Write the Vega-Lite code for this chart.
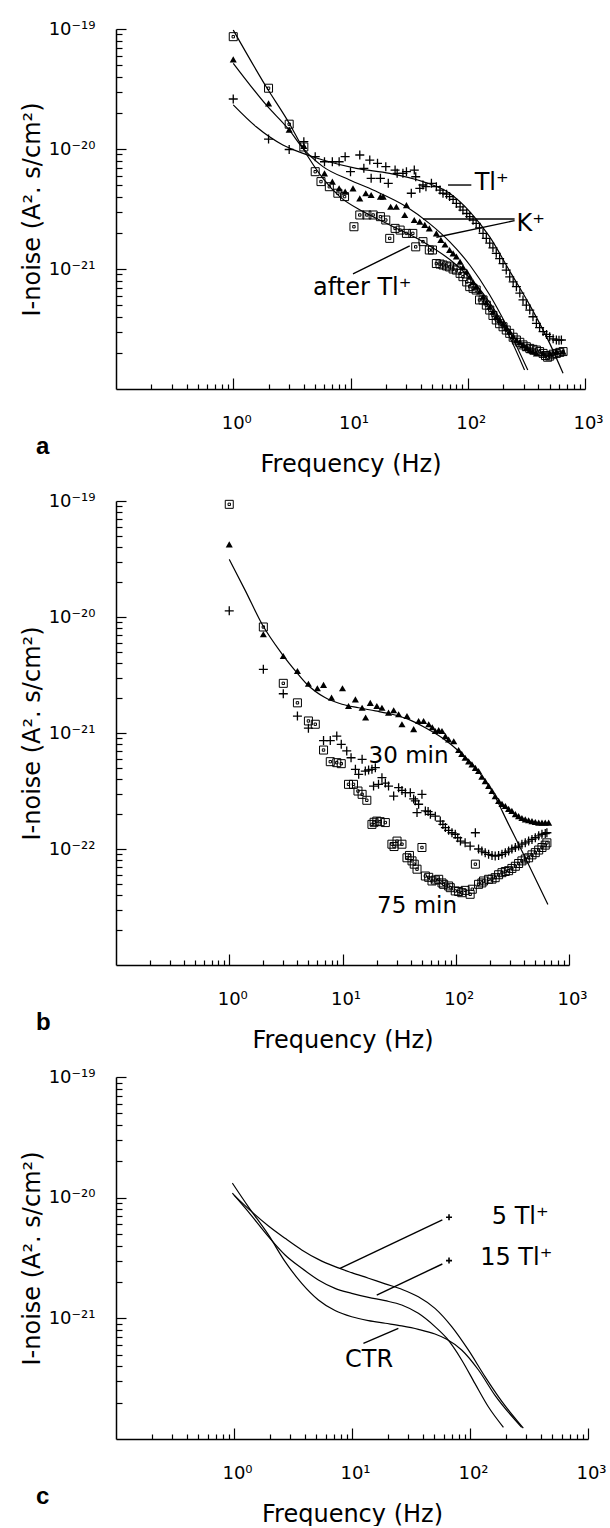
{
"$schema":"https://vega.github.io/schema/vega-lite/v6.json",
"padding":{"left":20,"top":20,"right":5,"bottom":0},
"bounds":"flush",
"spacing":112,
"config":{"view":{"stroke":null},"font":"DejaVu Sans",
"axis":{"grid":false,"domainColor":"#000","domainWidth":1.5,"tickColor":"#000","tickWidth":1.2,"labelColor":"#000","labelFont":"DejaVu Sans","labelFontSize":18,"titleColor":"#000","titleFont":"DejaVu Sans","titleFontSize":24,"titleFontWeight":"normal","labelFlush":false,"labelOverlap":false,"labelBound":false},
"title":{"font":"Liberation Sans","fontSize":24,"fontWeight":"bold","color":"#000"}},
"datasets":{
"A":[
{"k":"fit","s":"tl","f":1,"v":2.33e-20},{"k":"fit","s":"tl","f":1.57,"v":1.53e-20},{"k":"fit","s":"tl","f":2.65,"v":1.08e-20},{"k":"fit","s":"tl","f":3.94,"v":9.2e-21},{"k":"fit","s":"tl","f":5.82,"v":8.09e-21},{"k":"fit","s":"tl","f":11.2,"v":6.9e-21},{"k":"fit","s":"tl","f":21.6,"v":6.27e-21},{"k":"fit","s":"tl","f":41.5,"v":5.35e-21},{"k":"fit","s":"tl","f":70,"v":4.28e-21},{"k":"fit","s":"tl","f":104,"v":3.01e-21},{"k":"fit","s":"tl","f":154,"v":1.85e-21},{"k":"fit","s":"tl","f":228,"v":9.6e-22},{"k":"fit","s":"tl","f":338,"v":5.0e-22},{"k":"fit","s":"tl","f":500,"v":2.4e-22},{"k":"fit","s":"tl","f":650,"v":1.35e-22},
{"k":"fit","s":"k","f":1,"v":5.18e-20},{"k":"fit","s":"k","f":1.91,"v":2.33e-20},{"k":"fit","s":"k","f":3,"v":1.44e-20},{"k":"fit","s":"k","f":3.94,"v":1.01e-20},{"k":"fit","s":"k","f":5.82,"v":7.13e-21},{"k":"fit","s":"k","f":9.85,"v":5.52e-21},{"k":"fit","s":"k","f":15.6,"v":4.55e-21},{"k":"fit","s":"k","f":30,"v":3.3e-21},{"k":"fit","s":"k","f":47,"v":2.4e-21},{"k":"fit","s":"k","f":70,"v":1.69e-21},{"k":"fit","s":"k","f":104,"v":1.08e-21},{"k":"fit","s":"k","f":154,"v":6.07e-22},{"k":"fit","s":"k","f":213,"v":3.41e-22},{"k":"fit","s":"k","f":325,"v":1.44e-22},
{"k":"fit","s":"af","f":1,"v":9.8e-20},{"k":"fit","s":"af","f":1.91,"v":3.3e-20},{"k":"fit","s":"af","f":3,"v":1.64e-20},{"k":"fit","s":"af","f":3.94,"v":1.01e-20},{"k":"fit","s":"af","f":5.82,"v":5.7e-21},{"k":"fit","s":"af","f":8.1,"v":4.01e-21},{"k":"fit","s":"af","f":12.8,"v":3.01e-21},{"k":"fit","s":"af","f":21.6,"v":2.33e-21},{"k":"fit","s":"af","f":41.5,"v":1.69e-21},{"k":"fit","s":"af","f":80,"v":1.08e-21},{"k":"fit","s":"af","f":135,"v":6.27e-22},{"k":"fit","s":"af","f":213,"v":3.1e-22},{"k":"fit","s":"af","f":305,"v":1.44e-22},
{"k":"p","f":1,"v":2.61e-20},{"k":"p","f":2,"v":1.21e-20},{"k":"p","f":3,"v":9.9e-21},{"k":"p","f":4,"v":1.15e-20},{"k":"p","f":5,"v":8.63e-21},{"k":"p","f":6,"v":7.83e-21},{"k":"p","f":7,"v":7.83e-21},{"k":"p","f":8,"v":7.83e-21},{"k":"p","f":9,"v":8.63e-21},{"k":"p","f":10,"v":6.47e-21},{"k":"p","f":12,"v":8.91e-21},{"k":"p","f":13,"v":6.9e-21},{"k":"p","f":14.6,"v":8.09e-21},{"k":"p","f":15,"v":5.7e-21},{"k":"p","f":17,"v":7.6e-21},{"k":"p","f":18,"v":5.7e-21},{"k":"p","f":20,"v":7.13e-21},{"k":"p","f":21,"v":5.18e-21},{"k":"p","f":24,"v":6.68e-21},{"k":"p","f":25,"v":6.27e-21},{"k":"p","f":28,"v":6.27e-21},{"k":"p","f":30,"v":6.47e-21},{"k":"p","f":33,"v":4.28e-21},{"k":"p","f":35,"v":6.68e-21},{"k":"p","f":36,"v":5.87e-21},{"k":"p","f":39,"v":4.7e-21},{"k":"p","f":41.5,"v":5.01e-21},{"k":"p","f":44,"v":4.85e-21},{"k":"p","f":49,"v":5.18e-21},{"k":"p","f":54,"v":4.85e-21},{"k":"p","f":58,"v":4.55e-21},{"k":"p","f":61.5,"v":4.28e-21},{"k":"p","f":66,"v":4.2e-21},{"k":"p","f":70,"v":4.01e-21},{"k":"p","f":75,"v":3.8e-21},{"k":"p","f":80,"v":3.52e-21},{"k":"p","f":86,"v":3.3e-21},{"k":"p","f":91,"v":3.1e-21},{"k":"p","f":98,"v":2.9e-21},{"k":"p","f":104,"v":2.73e-21},{"k":"p","f":111,"v":2.55e-21},{"k":"p","f":118,"v":2.4e-21},{"k":"p","f":126,"v":2.2e-21},{"k":"p","f":135,"v":1.98e-21},{"k":"p","f":144,"v":1.8e-21},{"k":"p","f":154,"v":1.64e-21},{"k":"p","f":164,"v":1.5e-21},{"k":"p","f":175,"v":1.35e-21},{"k":"p","f":187,"v":1.22e-21},{"k":"p","f":200,"v":1.11e-21},{"k":"p","f":213,"v":9.8e-22},{"k":"p","f":228,"v":8.6e-22},{"k":"p","f":244,"v":7.8e-22},{"k":"p","f":260,"v":7.13e-22},{"k":"p","f":278,"v":6.3e-22},{"k":"p","f":296,"v":5.52e-22},{"k":"p","f":316,"v":5.0e-22},{"k":"p","f":338,"v":4.55e-22},{"k":"p","f":360,"v":4.0e-22},{"k":"p","f":385,"v":3.52e-22},{"k":"p","f":410,"v":3.25e-22},{"k":"p","f":439,"v":3.01e-22},{"k":"p","f":470,"v":2.85e-22},{"k":"p","f":500,"v":2.73e-22},{"k":"p","f":535,"v":2.62e-22},{"k":"p","f":570,"v":2.56e-22},{"k":"p","f":600,"v":2.55e-22},{"k":"p","f":629,"v":2.56e-22},
{"k":"t","f":1,"v":5.58e-20},{"k":"t","f":2,"v":2.4e-20},{"k":"t","f":3,"v":1.45e-20},{"k":"t","f":4,"v":1.06e-20},{"k":"t","f":6,"v":6.27e-21},{"k":"t","f":7,"v":5.35e-21},{"k":"t","f":8,"v":4.7e-21},{"k":"t","f":9,"v":4.41e-21},{"k":"t","f":10.5,"v":4.7e-21},{"k":"t","f":12,"v":3.88e-21},{"k":"t","f":13.5,"v":4.28e-21},{"k":"t","f":15,"v":4.14e-21},{"k":"t","f":18,"v":4.01e-21},{"k":"t","f":19,"v":4.01e-21},{"k":"t","f":22,"v":3.3e-21},{"k":"t","f":24.6,"v":3.3e-21},{"k":"t","f":29,"v":2.82e-21},{"k":"t","f":30,"v":3.41e-21},{"k":"t","f":35,"v":2.56e-21},{"k":"t","f":39,"v":2.48e-21},{"k":"t","f":43,"v":2.33e-21},{"k":"t","f":47,"v":2.18e-21},{"k":"t","f":54,"v":1.98e-21},{"k":"t","f":59,"v":1.75e-21},{"k":"t","f":64,"v":1.6e-21},{"k":"t","f":70,"v":1.44e-21},{"k":"t","f":75,"v":1.35e-21},{"k":"t","f":80,"v":1.27e-21},{"k":"t","f":86,"v":1.15e-21},{"k":"t","f":91,"v":1.04e-21},{"k":"t","f":98,"v":9.5e-22},{"k":"t","f":104,"v":8.63e-22},{"k":"t","f":111,"v":7.8e-22},{"k":"t","f":118,"v":7.13e-22},{"k":"t","f":126,"v":6.5e-22},{"k":"t","f":135,"v":5.87e-22},{"k":"t","f":144,"v":5.3e-22},{"k":"t","f":154,"v":4.85e-22},{"k":"t","f":164,"v":4.4e-22},{"k":"t","f":175,"v":4.01e-22},{"k":"t","f":187,"v":3.75e-22},{"k":"t","f":200,"v":3.52e-22},{"k":"t","f":213,"v":3.25e-22},{"k":"t","f":228,"v":3.01e-22},{"k":"t","f":244,"v":2.75e-22},{"k":"t","f":260,"v":2.56e-22},{"k":"t","f":278,"v":2.45e-22},{"k":"t","f":296,"v":2.33e-22},{"k":"t","f":316,"v":2.2e-22},{"k":"t","f":338,"v":2.11e-22},{"k":"t","f":360,"v":2.05e-22},{"k":"t","f":385,"v":1.98e-22},{"k":"t","f":439,"v":1.98e-22},{"k":"t","f":500,"v":1.98e-22},{"k":"t","f":570,"v":2.05e-22},{"k":"t","f":650,"v":2.05e-22},
{"k":"q","f":1,"v":8.63e-20},{"k":"q","f":2,"v":3.21e-20},{"k":"q","f":3,"v":1.61e-20},{"k":"q","f":4,"v":1.04e-20},{"k":"q","f":5,"v":6.47e-21},{"k":"q","f":5.6,"v":5.35e-21},{"k":"q","f":6.6,"v":4.85e-21},{"k":"q","f":7.8,"v":4.28e-21},{"k":"q","f":8.9,"v":4.01e-21},{"k":"q","f":10.7,"v":2.25e-21},{"k":"q","f":12,"v":2.82e-21},{"k":"q","f":13.8,"v":2.82e-21},{"k":"q","f":15.6,"v":2.82e-21},{"k":"q","f":18,"v":2.73e-21},{"k":"q","f":20,"v":2.56e-21},{"k":"q","f":21.6,"v":1.8e-21},{"k":"q","f":24,"v":2.18e-21},{"k":"q","f":26.5,"v":2.11e-21},{"k":"q","f":30,"v":1.98e-21},{"k":"q","f":34,"v":1.98e-21},{"k":"q","f":36,"v":1.53e-21},{"k":"q","f":41.5,"v":1.69e-21},{"k":"q","f":47,"v":1.44e-21},{"k":"q","f":50,"v":1.44e-21},{"k":"q","f":54,"v":1.11e-21},{"k":"q","f":58,"v":1.1e-21},{"k":"q","f":61.5,"v":1.08e-21},{"k":"q","f":66,"v":1.06e-21},{"k":"q","f":70,"v":1.04e-21},{"k":"q","f":75,"v":1.0e-21},{"k":"q","f":80,"v":9.8e-22},{"k":"q","f":86,"v":9.2e-22},{"k":"q","f":91,"v":8.63e-22},{"k":"q","f":98,"v":7.8e-22},{"k":"q","f":104,"v":7.13e-22},{"k":"q","f":111,"v":6.9e-22},{"k":"q","f":118,"v":6.68e-22},{"k":"q","f":126,"v":5.52e-22},{"k":"q","f":135,"v":5.52e-22},{"k":"q","f":144,"v":5.0e-22},{"k":"q","f":154,"v":4.55e-22},{"k":"q","f":164,"v":4.1e-22},{"k":"q","f":175,"v":3.76e-22},{"k":"q","f":187,"v":3.5e-22},{"k":"q","f":200,"v":3.3e-22},{"k":"q","f":213,"v":3.1e-22},{"k":"q","f":228,"v":2.91e-22},{"k":"q","f":244,"v":2.7e-22},{"k":"q","f":260,"v":2.56e-22},{"k":"q","f":278,"v":2.45e-22},{"k":"q","f":296,"v":2.33e-22},{"k":"q","f":316,"v":2.25e-22},{"k":"q","f":338,"v":2.18e-22},{"k":"q","f":360,"v":2.14e-22},{"k":"q","f":385,"v":2.11e-22},{"k":"q","f":410,"v":2.05e-22},{"k":"q","f":439,"v":1.98e-22},{"k":"q","f":460,"v":1.9e-22},{"k":"q","f":480,"v":1.84e-22},{"k":"q","f":500,"v":1.88e-22},{"k":"q","f":535,"v":1.95e-22},{"k":"q","f":570,"v":1.98e-22},{"k":"q","f":610,"v":2.02e-22},{"k":"q","f":650,"v":2.05e-22},
{"k":"lead","f":67.9,"v":5.01e-21,"f2":107.3,"v2":5.01e-21},{"k":"lead","f":251,"v":2.61e-21,"f2":41.5,"v2":2.61e-21},{"k":"lead","f":251,"v":2.53e-21,"f2":54,"v2":1.84e-21},{"k":"lead","f":10.5,"v":9.1e-22,"f2":32,"v2":1.56e-21},
{"k":"lab","f":114.6,"v":5.18e-21,"t":"Tl⁺"},{"k":"lab","f":260,"v":2.37e-21,"t":"K⁺"},{"k":"lab","f":4.79,"v":6.9e-22,"t":"after Tl⁺"}
],
"B":[
{"k":"fit","s":"k","f":1,"v":3.14e-20},{"k":"fit","s":"k","f":1.39,"v":1.68e-20},{"k":"fit","s":"k","f":1.95,"v":8.65e-21},{"k":"fit","s":"k","f":2.94,"v":4.77e-21},{"k":"fit","s":"k","f":3.85,"v":3.42e-21},{"k":"fit","s":"k","f":4.86,"v":2.63e-21},{"k":"fit","s":"k","f":7,"v":2.02e-21},{"k":"fit","s":"k","f":9.9,"v":1.77e-21},{"k":"fit","s":"k","f":13.9,"v":1.65e-21},{"k":"fit","s":"k","f":19.5,"v":1.55e-21},{"k":"fit","s":"k","f":27.3,"v":1.45e-21},{"k":"fit","s":"k","f":38.4,"v":1.31e-21},{"k":"fit","s":"k","f":53.9,"v":1.11e-21},{"k":"fit","s":"k","f":75.6,"v":9.1e-22},{"k":"fit","s":"k","f":106,"v":7.0e-22},{"k":"fit","s":"k","f":149,"v":5.02e-22},{"k":"fit","s":"k","f":209,"v":3.16e-22},{"k":"fit","s":"k","f":293,"v":1.63e-22},{"k":"fit","s":"k","f":411,"v":8.4e-23},{"k":"fit","s":"k","f":650,"v":3.33e-23},
{"k":"t","f":1,"v":4.23e-20},{"k":"t","f":2,"v":7.1e-21},{"k":"t","f":3,"v":4.61e-21},{"k":"t","f":4,"v":3.42e-21},{"k":"t","f":5,"v":2.66e-21},{"k":"t","f":6,"v":2.43e-21},{"k":"t","f":6.8,"v":2.6e-21},{"k":"t","f":8,"v":2.02e-21},{"k":"t","f":10,"v":2.43e-21},{"k":"t","f":11.3,"v":1.71e-21},{"k":"t","f":13,"v":1.95e-21},{"k":"t","f":14.9,"v":1.65e-21},{"k":"t","f":16,"v":1.36e-21},{"k":"t","f":17.6,"v":1.82e-21},{"k":"t","f":20.1,"v":1.71e-21},{"k":"t","f":22.3,"v":1.65e-21},{"k":"t","f":25.5,"v":1.5e-21},{"k":"t","f":28.3,"v":1.57e-21},{"k":"t","f":31.3,"v":1.45e-21},{"k":"t","f":33.5,"v":1.19e-21},{"k":"t","f":37.1,"v":1.4e-21},{"k":"t","f":42.5,"v":1.08e-21},{"k":"t","f":47,"v":1.27e-21},{"k":"t","f":52,"v":1.27e-21},{"k":"t","f":57.7,"v":1.19e-21},{"k":"t","f":62,"v":1.12e-21},{"k":"t","f":66,"v":1.04e-21},{"k":"t","f":70.7,"v":1.06e-21},{"k":"t","f":75.6,"v":1.04e-21},{"k":"t","f":81,"v":9.4e-22},{"k":"t","f":86.5,"v":8.8e-22},{"k":"t","f":96,"v":8.5e-22},{"k":"t","f":106,"v":7.13e-22},{"k":"t","f":113,"v":6.6e-22},{"k":"t","f":121,"v":6.12e-22},{"k":"t","f":130,"v":5.7e-22},{"k":"t","f":139,"v":5.37e-22},{"k":"t","f":149,"v":5.0e-22},{"k":"t","f":159,"v":4.7e-22},{"k":"t","f":170,"v":4.2e-22},{"k":"t","f":182,"v":3.85e-22},{"k":"t","f":195,"v":3.5e-22},{"k":"t","f":209,"v":3.16e-22},{"k":"t","f":223,"v":2.85e-22},{"k":"t","f":239,"v":2.6e-22},{"k":"t","f":256,"v":2.45e-22},{"k":"t","f":274,"v":2.35e-22},{"k":"t","f":293,"v":2.22e-22},{"k":"t","f":313,"v":2.13e-22},{"k":"t","f":336,"v":2.0e-22},{"k":"t","f":359,"v":1.92e-22},{"k":"t","f":384,"v":1.85e-22},{"k":"t","f":411,"v":1.8e-22},{"k":"t","f":440,"v":1.77e-22},{"k":"t","f":471,"v":1.74e-22},{"k":"t","f":504,"v":1.71e-22},{"k":"t","f":540,"v":1.69e-22},{"k":"t","f":577,"v":1.69e-22},{"k":"t","f":617,"v":1.69e-22},{"k":"t","f":661,"v":1.69e-22},
{"k":"p","f":1,"v":1.13e-20},{"k":"p","f":2,"v":3.54e-21},{"k":"p","f":3,"v":2.18e-21},{"k":"p","f":4,"v":1.4e-21},{"k":"p","f":5,"v":1.1e-21},{"k":"p","f":6.8,"v":8.6e-22},{"k":"p","f":7.8,"v":8.6e-22},{"k":"p","f":8.9,"v":9.4e-22},{"k":"p","f":9.75,"v":7.98e-22},{"k":"p","f":10.9,"v":7.0e-22},{"k":"p","f":11.9,"v":6.12e-22},{"k":"p","f":13,"v":4.86e-22},{"k":"p","f":13.9,"v":4.4e-22},{"k":"p","f":14.9,"v":5.93e-22},{"k":"p","f":15.9,"v":4.7e-22},{"k":"p","f":17,"v":4.8e-22},{"k":"p","f":18.2,"v":4.86e-22},{"k":"p","f":19.5,"v":5.02e-22},{"k":"p","f":18.8,"v":3.49e-22},{"k":"p","f":20.8,"v":3.61e-22},{"k":"p","f":22.3,"v":4.12e-22},{"k":"p","f":23.9,"v":3.7e-22},{"k":"p","f":25.5,"v":3.49e-22},{"k":"p","f":28.3,"v":2.86e-22},{"k":"p","f":31.3,"v":3.38e-22},{"k":"p","f":33.5,"v":3.2e-22},{"k":"p","f":35.9,"v":3.06e-22},{"k":"p","f":39.7,"v":3.06e-22},{"k":"p","f":42.5,"v":2.7e-22},{"k":"p","f":44,"v":2.6e-22},{"k":"p","f":45.5,"v":2.06e-22},{"k":"p","f":47,"v":2.43e-22},{"k":"p","f":50.3,"v":2.96e-22},{"k":"p","f":53.9,"v":2.13e-22},{"k":"p","f":57,"v":2.1e-22},{"k":"p","f":59.7,"v":1.99e-22},{"k":"p","f":66,"v":1.92e-22},{"k":"p","f":73,"v":1.74e-22},{"k":"p","f":77,"v":1.63e-22},{"k":"p","f":81,"v":1.53e-22},{"k":"p","f":86.5,"v":1.45e-22},{"k":"p","f":92.6,"v":1.38e-22},{"k":"p","f":99,"v":1.34e-22},{"k":"p","f":104,"v":1.25e-22},{"k":"p","f":110,"v":1.17e-22},{"k":"p","f":121,"v":1.13e-22},{"k":"p","f":134,"v":1.06e-22},{"k":"p","f":149,"v":1.38e-22},{"k":"p","f":159,"v":1.0e-22},{"k":"p","f":170,"v":9.6e-23},{"k":"p","f":182,"v":9.3e-23},{"k":"p","f":195,"v":9.0e-23},{"k":"p","f":209,"v":8.8e-23},{"k":"p","f":223,"v":8.7e-23},{"k":"p","f":239,"v":8.8e-23},{"k":"p","f":256,"v":9.0e-23},{"k":"p","f":274,"v":9.3e-23},{"k":"p","f":293,"v":9.6e-23},{"k":"p","f":313,"v":1.0e-22},{"k":"p","f":336,"v":1.03e-22},{"k":"p","f":359,"v":1.06e-22},{"k":"p","f":384,"v":1.1e-22},{"k":"p","f":411,"v":1.13e-22},{"k":"p","f":440,"v":1.17e-22},{"k":"p","f":471,"v":1.21e-22},{"k":"p","f":504,"v":1.25e-22},{"k":"p","f":540,"v":1.3e-22},{"k":"p","f":577,"v":1.34e-22},{"k":"p","f":617,"v":1.36e-22},{"k":"p","f":638,"v":1.38e-22},
{"k":"q","f":1,"v":9.36e-20},{"k":"q","f":2,"v":8.2e-21},{"k":"q","f":3,"v":2.68e-21},{"k":"q","f":4,"v":1.82e-21},{"k":"q","f":5,"v":1.27e-21},{"k":"q","f":5.75,"v":1.19e-21},{"k":"q","f":6.8,"v":7.13e-22},{"k":"q","f":7.8,"v":5.66e-22},{"k":"q","f":8.9,"v":5.55e-22},{"k":"q","f":9.75,"v":5.44e-22},{"k":"q","f":11.3,"v":3.61e-22},{"k":"q","f":12.5,"v":3.61e-22},{"k":"q","f":13.7,"v":3.16e-22},{"k":"q","f":14.9,"v":2.96e-22},{"k":"q","f":16.4,"v":2.63e-22},{"k":"q","f":18.2,"v":1.63e-22},{"k":"q","f":19,"v":1.7e-22},{"k":"q","f":20.1,"v":1.74e-22},{"k":"q","f":21.5,"v":1.72e-22},{"k":"q","f":23.9,"v":1.69e-22},{"k":"q","f":27.3,"v":1.1e-22},{"k":"q","f":28.5,"v":1.05e-22},{"k":"q","f":30.3,"v":1.17e-22},{"k":"q","f":33.5,"v":1.1e-22},{"k":"q","f":37.1,"v":8.4e-23},{"k":"q","f":39,"v":8.8e-23},{"k":"q","f":41.1,"v":7.9e-23},{"k":"q","f":43,"v":7.4e-23},{"k":"q","f":45.5,"v":6.7e-23},{"k":"q","f":50.3,"v":1.03e-22},{"k":"q","f":53.9,"v":5.85e-23},{"k":"q","f":57.7,"v":5.7e-23},{"k":"q","f":61.7,"v":5.3e-23},{"k":"q","f":66,"v":5.4e-23},{"k":"q","f":70.7,"v":5.48e-23},{"k":"q","f":75.6,"v":5.1e-23},{"k":"q","f":78.2,"v":4.96e-23},{"k":"q","f":86.5,"v":4.8e-23},{"k":"q","f":89.5,"v":4.64e-23},{"k":"q","f":99,"v":4.35e-23},{"k":"q","f":106,"v":4.3e-23},{"k":"q","f":113,"v":4.2e-23},{"k":"q","f":121,"v":4.4e-23},{"k":"q","f":134,"v":4.07e-23},{"k":"q","f":140,"v":4.5e-23},{"k":"q","f":149,"v":7.4e-23},{"k":"q","f":159,"v":4.96e-23},{"k":"q","f":170,"v":5.1e-23},{"k":"q","f":176,"v":5.3e-23},{"k":"q","f":195,"v":5.48e-23},{"k":"q","f":209,"v":5.5e-23},{"k":"q","f":223,"v":5.66e-23},{"k":"q","f":239,"v":6.0e-23},{"k":"q","f":256,"v":6.25e-23},{"k":"q","f":274,"v":6.4e-23},{"k":"q","f":293,"v":6.5e-23},{"k":"q","f":313,"v":6.8e-23},{"k":"q","f":336,"v":7.1e-23},{"k":"q","f":359,"v":7.5e-23},{"k":"q","f":384,"v":7.9e-23},{"k":"q","f":411,"v":8.2e-23},{"k":"q","f":440,"v":8.4e-23},{"k":"q","f":471,"v":8.9e-23},{"k":"q","f":504,"v":9.3e-23},{"k":"q","f":540,"v":9.8e-23},{"k":"q","f":577,"v":1.03e-22},{"k":"q","f":617,"v":1.08e-22},{"k":"q","f":638,"v":1.13e-22},
{"k":"lab","f":17.0,"v":6.34e-22,"t":"30 min"},{"k":"lab","f":20.2,"v":3.23e-23,"t":"75 min"}
],
"C":[
{"k":"fit","s":"c5","f":1.0,"v":1.05e-20},{"k":"fit","s":"c5","f":1.41,"v":7.66e-21},{"k":"fit","s":"c5","f":1.96,"v":5.82e-21},{"k":"fit","s":"c5","f":2.71,"v":4.6e-21},{"k":"fit","s":"c5","f":3.75,"v":3.69e-21},{"k":"fit","s":"c5","f":5.19,"v":3.08e-21},{"k":"fit","s":"c5","f":7.18,"v":2.68e-21},{"k":"fit","s":"c5","f":9.94,"v":2.39e-21},{"k":"fit","s":"c5","f":13.8,"v":2.15e-21},{"k":"fit","s":"c5","f":19.1,"v":1.93e-21},{"k":"fit","s":"c5","f":26.4,"v":1.74e-21},{"k":"fit","s":"c5","f":36.5,"v":1.51e-21},{"k":"fit","s":"c5","f":50.5,"v":1.21e-21},{"k":"fit","s":"c5","f":70,"v":8.54e-22},{"k":"fit","s":"c5","f":96.8,"v":5.47e-22},{"k":"fit","s":"c5","f":134,"v":3.29e-22},{"k":"fit","s":"c5","f":186,"v":2.05e-22},{"k":"fit","s":"c5","f":283,"v":1.23e-22},
{"k":"fit","s":"c15","f":0.969,"v":1.09e-20},{"k":"fit","s":"c15","f":1.32,"v":7.66e-21},{"k":"fit","s":"c15","f":1.96,"v":4.75e-21},{"k":"fit","s":"c15","f":2.71,"v":3.35e-21},{"k":"fit","s":"c15","f":3.75,"v":2.6e-21},{"k":"fit","s":"c15","f":5.19,"v":2.08e-21},{"k":"fit","s":"c15","f":7.18,"v":1.77e-21},{"k":"fit","s":"c15","f":9.94,"v":1.61e-21},{"k":"fit","s":"c15","f":13.8,"v":1.49e-21},{"k":"fit","s":"c15","f":19.1,"v":1.4e-21},{"k":"fit","s":"c15","f":26.4,"v":1.29e-21},{"k":"fit","s":"c15","f":36.5,"v":1.1e-21},{"k":"fit","s":"c15","f":50.5,"v":8.54e-22},{"k":"fit","s":"c15","f":63.5,"v":6.84e-22},{"k":"fit","s":"c15","f":85,"v":4.52e-22},{"k":"fit","s":"c15","f":110,"v":2.89e-22},{"k":"fit","s":"c15","f":143,"v":1.85e-22},{"k":"fit","s":"c15","f":192,"v":1.25e-22},
{"k":"fit","s":"ctr","f":0.969,"v":1.32e-20},{"k":"fit","s":"ctr","f":1.32,"v":8.43e-21},{"k":"fit","s":"ctr","f":1.96,"v":4.91e-21},{"k":"fit","s":"ctr","f":2.71,"v":2.95e-21},{"k":"fit","s":"ctr","f":3.75,"v":1.95e-21},{"k":"fit","s":"ctr","f":5.19,"v":1.42e-21},{"k":"fit","s":"ctr","f":7.18,"v":1.16e-21},{"k":"fit","s":"ctr","f":9.94,"v":1.03e-21},{"k":"fit","s":"ctr","f":13.8,"v":9.57e-22},{"k":"fit","s":"ctr","f":19.1,"v":9.1e-22},{"k":"fit","s":"ctr","f":26.4,"v":8.65e-22},{"k":"fit","s":"ctr","f":36.5,"v":8.11e-22},{"k":"fit","s":"ctr","f":50.5,"v":7.42e-22},{"k":"fit","s":"ctr","f":63.5,"v":6.71e-22},{"k":"fit","s":"ctr","f":85,"v":5.47e-22},{"k":"fit","s":"ctr","f":118,"v":3.73e-22},{"k":"fit","s":"ctr","f":163,"v":2.3e-22},{"k":"fit","s":"ctr","f":274,"v":1.25e-22},
{"k":"p","f":66.4,"v":6.88e-21},{"k":"p","f":66.4,"v":3.01e-21},
{"k":"lead","f":7.92,"v":2.6e-21,"f2":58.3,"v2":6.54e-21},{"k":"lead","f":16.2,"v":1.56e-21,"f2":58.3,"v2":2.82e-21},{"k":"lead","f":12.5,"v":6.21e-22,"f2":24.7,"v2":8.27e-22},
{"k":"lab","f":153,"v":6.88e-21,"t":"5 Tl⁺"},{"k":"lab","f":122,"v":3.15e-21,"t":"15 Tl⁺"},{"k":"lab","f":8.73,"v":4.52e-22,"t":"CTR"}
]
},
"vconcat":[
{
"width":469,"height":360,
"title":{"text":"a","orient":"bottom","anchor":"start","frame":"group","offset":-22,"dx":-80,"baseline":"alphabetic"},
"data":{"name":"A"},
"encoding":{
"x":{"field":"f","type":"quantitative","scale":{"type":"log","domain":[0.1,1000],"nice":false},
"axis":{"values":[0.2,0.3,0.4,0.5,0.6,0.7,0.8,0.9,1,2,3,4,5,6,7,8,9,10,20,30,40,50,60,70,80,90,100,200,300,400,500,600,700,800,900,1000],
"labelExpr":"datum.value==1?'10⁰':datum.value==10?'10¹':datum.value==100?'10²':datum.value==1000?'10³':''",
"tickSize":{"condition":{"test":"datum.value==1||datum.value==10||datum.value==100||datum.value==1000","value":-11},"value":-5},
"labelPadding":36,"labelOffset":3,"title":"Frequency  (Hz)","titleY":82,"titleBaseline":"alphabetic"}},
"y":{"field":"v","type":"quantitative","scale":{"type":"log","domain":[1e-22,1e-19],"nice":false},
"axis":{"values":[2e-22,3e-22,4e-22,5e-22,6e-22,7e-22,8e-22,9e-22,1e-21,2e-21,3e-21,4e-21,5e-21,6e-21,7e-21,8e-21,9e-21,1e-20,2e-20,3e-20,4e-20,5e-20,6e-20,7e-20,8e-20,9e-20,1e-19],
"labelExpr":"datum.value==1e-19?'10⁻¹⁹':datum.value==1e-20?'10⁻²⁰':datum.value==1e-21?'10⁻²¹':''",
"tickSize":{"condition":{"test":"datum.value==1e-19||datum.value==1e-20||datum.value==1e-21","value":-10},"value":-6},
"labelPadding":31,"title":"I-noise  (A². s/cm²)","titleX":-77,"titleBaseline":"alphabetic"}}
},
"layer":[
{"transform":[{"filter":"datum.k=='fit'"}],"mark":{"type":"line","interpolate":"monotone","stroke":"#000","strokeWidth":1.2},"encoding":{"detail":{"field":"s"}}},
{"transform":[{"filter":"datum.k=='lead'"}],"mark":{"type":"rule","stroke":"#000","strokeWidth":1.4},"encoding":{"x2":{"field":"f2"},"y2":{"field":"v2"}}},
{"transform":[{"filter":"datum.k=='p'"}],"mark":{"type":"point","shape":"M-1,0H1M0,-1V1","filled":false,"color":"#000","strokeWidth":1.3,"size":81,"opacity":1}},
{"transform":[{"filter":"datum.k=='t'"}],"mark":{"type":"point","shape":"triangle-up","filled":true,"color":"#000","size":50,"opacity":1}},
{"transform":[{"filter":"datum.k=='q'"}],"mark":{"type":"point","shape":"M-1,-1H1V1H-1Z M-0.3,-0.3H0.3V0.3H-0.3Z","filled":false,"color":"#000","strokeWidth":1,"size":64,"opacity":1}},
{"transform":[{"filter":"datum.k=='lab'"}],"mark":{"type":"text","align":"left","baseline":"middle","font":"DejaVu Sans","fontSize":24,"color":"#000"},"encoding":{"text":{"field":"t"}}}
]
},
{
"width":453,"height":464,
"title":{"text":"b","orient":"bottom","anchor":"start","frame":"group","offset":-22,"dx":-80,"baseline":"alphabetic"},
"data":{"name":"B"},
"encoding":{
"x":{"field":"f","type":"quantitative","scale":{"type":"log","domain":[0.1,1000],"nice":false},
"axis":{"values":[0.2,0.3,0.4,0.5,0.6,0.7,0.8,0.9,1,2,3,4,5,6,7,8,9,10,20,30,40,50,60,70,80,90,100,200,300,400,500,600,700,800,900,1000],
"labelExpr":"datum.value==1?'10⁰':datum.value==10?'10¹':datum.value==100?'10²':datum.value==1000?'10³':''",
"tickSize":{"condition":{"test":"datum.value==1||datum.value==10||datum.value==100||datum.value==1000","value":-11},"value":-5},
"labelPadding":36,"labelOffset":3,"title":"Frequency  (Hz)","titleY":82,"titleBaseline":"alphabetic"}},
"y":{"field":"v","type":"quantitative","scale":{"type":"log","domain":[1e-23,1e-19],"nice":false},
"axis":{"values":[2e-23,3e-23,4e-23,5e-23,6e-23,7e-23,8e-23,9e-23,1e-22,2e-22,3e-22,4e-22,5e-22,6e-22,7e-22,8e-22,9e-22,1e-21,2e-21,3e-21,4e-21,5e-21,6e-21,7e-21,8e-21,9e-21,1e-20,2e-20,3e-20,4e-20,5e-20,6e-20,7e-20,8e-20,9e-20,1e-19],
"labelExpr":"datum.value==1e-19?'10⁻¹⁹':datum.value==1e-20?'10⁻²⁰':datum.value==1e-21?'10⁻²¹':datum.value==1e-22?'10⁻²²':''",
"tickSize":{"condition":{"test":"datum.value==1e-19||datum.value==1e-20||datum.value==1e-21||datum.value==1e-22","value":-10},"value":-6},
"labelPadding":31,"title":"I-noise  (A². s/cm²)","titleX":-77,"titleBaseline":"alphabetic"}}
},
"layer":[
{"transform":[{"filter":"datum.k=='fit'"}],"mark":{"type":"line","interpolate":"monotone","stroke":"#000","strokeWidth":1.2},"encoding":{"detail":{"field":"s"}}},
{"transform":[{"filter":"datum.k=='p'"}],"mark":{"type":"point","shape":"M-1,0H1M0,-1V1","filled":false,"color":"#000","strokeWidth":1.3,"size":81,"opacity":1}},
{"transform":[{"filter":"datum.k=='t'"}],"mark":{"type":"point","shape":"triangle-up","filled":true,"color":"#000","size":50,"opacity":1}},
{"transform":[{"filter":"datum.k=='q'"}],"mark":{"type":"point","shape":"M-1,-1H1V1H-1Z M-0.3,-0.3H0.3V0.3H-0.3Z","filled":false,"color":"#000","strokeWidth":1,"size":64,"opacity":1}},
{"transform":[{"filter":"datum.k=='lab'"}],"mark":{"type":"text","align":"left","baseline":"middle","font":"DejaVu Sans","fontSize":23,"color":"#000"},"encoding":{"text":{"field":"t"}}}
]
},
{
"width":472,"height":362,
"title":{"text":"c","orient":"bottom","anchor":"start","frame":"group","offset":-22,"dx":-80,"baseline":"alphabetic"},
"data":{"name":"C"},
"encoding":{
"x":{"field":"f","type":"quantitative","scale":{"type":"log","domain":[0.1,1000],"nice":false},
"axis":{"values":[0.2,0.3,0.4,0.5,0.6,0.7,0.8,0.9,1,2,3,4,5,6,7,8,9,10,20,30,40,50,60,70,80,90,100,200,300,400,500,600,700,800,900,1000],
"labelExpr":"datum.value==1?'10⁰':datum.value==10?'10¹':datum.value==100?'10²':datum.value==1000?'10³':''",
"tickSize":{"condition":{"test":"datum.value==1||datum.value==10||datum.value==100||datum.value==1000","value":-11},"value":-5},
"labelPadding":36,"labelOffset":3,"title":"Frequency  (Hz)","titleY":82,"titleBaseline":"alphabetic"}},
"y":{"field":"v","type":"quantitative","scale":{"type":"log","domain":[1e-22,1e-19],"nice":false},
"axis":{"values":[2e-22,3e-22,4e-22,5e-22,6e-22,7e-22,8e-22,9e-22,1e-21,2e-21,3e-21,4e-21,5e-21,6e-21,7e-21,8e-21,9e-21,1e-20,2e-20,3e-20,4e-20,5e-20,6e-20,7e-20,8e-20,9e-20,1e-19],
"labelExpr":"datum.value==1e-19?'10⁻¹⁹':datum.value==1e-20?'10⁻²⁰':datum.value==1e-21?'10⁻²¹':''",
"tickSize":{"condition":{"test":"datum.value==1e-19||datum.value==1e-20||datum.value==1e-21","value":-10},"value":-6},
"labelPadding":31,"title":"I-noise  (A². s/cm²)","titleX":-77,"titleBaseline":"alphabetic"}}
},
"layer":[
{"transform":[{"filter":"datum.k=='fit'"}],"mark":{"type":"line","interpolate":"monotone","stroke":"#000","strokeWidth":1.2},"encoding":{"detail":{"field":"s"}}},
{"transform":[{"filter":"datum.k=='lead'"}],"mark":{"type":"rule","stroke":"#000","strokeWidth":1.4},"encoding":{"x2":{"field":"f2"},"y2":{"field":"v2"}}},
{"transform":[{"filter":"datum.k=='p'"}],"mark":{"type":"point","shape":"M-1,0H1M0,-1V1","filled":false,"color":"#000","strokeWidth":1.6,"size":36,"opacity":1}},
{"transform":[{"filter":"datum.k=='lab'"}],"mark":{"type":"text","align":"left","baseline":"middle","font":"DejaVu Sans","fontSize":24,"color":"#000"},"encoding":{"text":{"field":"t"}}}
]
}
]
}
